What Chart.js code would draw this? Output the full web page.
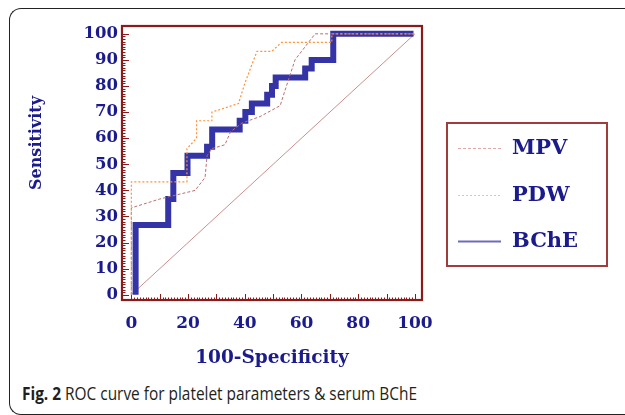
<!DOCTYPE html>
<html>
<head>
<meta charset="utf-8">
<script src="https://cdn.jsdelivr.net/npm/chart.js@4.4.1/dist/chart.umd.min.js"></script>
<style>
  html, body { margin: 0; padding: 0; background: #fff; width: 625px; height: 415px; overflow: hidden; }
  #frame { position: absolute; left: 9px; top: 8px; width: 640px; height: 407px; border-left: 1.6px solid #222; border-top: 1.6px solid #222; border-bottom: 1.6px solid #222; border-radius: 12px 0 0 12px; box-sizing: border-box; }
  #cap { position: absolute; left: 22px; top: 384px; font-family: "Open Sans", sans-serif; font-size: 18px; line-height: 18px; color: #231f20; white-space: nowrap; transform-origin: 0 0; }
  #cap b { font-weight: 700; }
  canvas { position: absolute; left: 0; top: 0; }
</style>
</head>
<body>
<div id="frame"></div>
<div id="cap"><span id="capText"><b>Fig. 2</b> ROC curve for platelet parameters &amp; serum BChE</span></div>
<canvas id="c" width="625" height="415"></canvas>
<script>
// ---- data ----
const seriesNames = ["MPV", "PDW", "BChE"];
const xTicks = [0, 20, 40, 60, 80, 100];
const yTicks = [0, 10, 20, 30, 40, 50, 60, 70, 80, 90, 100];
const xTitle = "100-Specificity";
const yTitle = "Sensitivity";

const mpvX = [0, 0, 10, 22.5, 26, 26.7, 28.4, 33, 35, 39, 45.4, 52.5, 53.5, 57.7, 64.8, 100];
const mpvY = [0, 33.3, 36.7, 40, 45, 53.3, 56, 57.5, 62.5, 65.8, 68.3, 72.5, 76, 90, 100, 100];

const pdwX = [0, 0, 19.6, 19.6, 23, 23, 28.4, 28.4, 37.8, 40, 44.3, 49.5, 53, 70.7, 70.7, 100];
const pdwY = [0, 43.3, 43.3, 56, 60, 66.7, 66.7, 70, 73.3, 81, 93.3, 93.3, 96.7, 96.7, 100, 100];

const bcheX = [1.5, 1.5, 13, 13, 14.8, 14.8, 19.8, 19.8, 26.7, 26.7, 28.5, 28.5, 38.2, 38.2, 40.2, 40.2, 42.5, 42.5, 47.9, 47.9, 49.6, 49.6, 50.9, 50.9, 61.3, 61.3, 63.6, 63.6, 71.2, 71.2, 99.5];
const bcheY = [0, 26.7, 26.7, 36.7, 36.7, 46.7, 46.7, 53.3, 53.3, 56.7, 56.7, 63.3, 63.3, 66.7, 66.7, 70, 70, 73.3, 73.3, 76.7, 76.7, 80, 80, 83.3, 83.3, 86.7, 86.7, 90, 90, 100, 100];

const diagX = [0, 100];
const diagY = [0, 100];

const zip = (xs, ys) => xs.map((x, i) => ({ x: x, y: ys[i] }));

const NAVY = "#1b1b8c";
const AXIS = "#8b1a1a";

// frame + ruler ticks plugin
const framePlugin = {
  id: "framePlugin",
  beforeDatasetsDraw(chart) {
    const { ctx, chartArea: a, scales } = chart;
    const xs = scales.x, ys = scales.y;
    ctx.save();
    ctx.strokeStyle = AXIS;
    ctx.lineWidth = 1;
    ctx.beginPath();
    for (let v = 0; v <= 100; v++) {
      const px = Math.round(xs.getPixelForValue(v)) + 0.5;
      const len = v % 10 === 0 ? 6 : 2.5;
      ctx.moveTo(px, a.bottom);
      ctx.lineTo(px, a.bottom - len);
      const py = Math.round(ys.getPixelForValue(v)) + 0.5;
      const len2 = v % 10 === 0 ? 7 : 3.5;
      ctx.moveTo(a.left, py);
      ctx.lineTo(a.left + len2, py);
    }
    ctx.stroke();
    ctx.lineWidth = 2.2;
    ctx.strokeRect(a.left, a.top, a.right - a.left, a.bottom - a.top);
    ctx.restore();
  },
  afterDraw(chart) {
    // y-axis title, placed where the figure places it (above the axis centre)
    const { ctx } = chart;
    ctx.save();
    ctx.translate(37, 143);
    ctx.rotate(-Math.PI / 2);
    ctx.fillStyle = NAVY;
    ctx.font = "bold 16px 'DejaVu Serif'";
    ctx.textAlign = "center";
    ctx.textBaseline = "middle";
    ctx.fillText(yTitle, 0, 0);
    ctx.restore();
  }
};

// boxed legend plugin
const legendPlugin = {
  id: "boxLegend",
  afterDraw(chart) {
    const { ctx } = chart;
    ctx.save();
    ctx.strokeStyle = "#a03c3c";
    ctx.lineWidth = 2;
    ctx.strokeRect(447, 123, 160, 143);
    const rows = [148, 195, 241];
    chart.data.datasets.forEach((ds, i) => {
      if (!ds.legendColor) return;
      const y = rows[ds.legendRow];
      ctx.beginPath();
      ctx.strokeStyle = ds.legendColor;
      ctx.lineWidth = ds.legendWidth;
      ctx.setLineDash(ds.borderDash || []);
      ctx.moveTo(458, y + 0.5);
      ctx.lineTo(501, y + 0.5);
      ctx.stroke();
      ctx.setLineDash([]);
      ctx.fillStyle = NAVY;
      ctx.font = "bold 21px 'DejaVu Serif'";
      ctx.textBaseline = "middle";
      ctx.textAlign = "left";
      ctx.fillText(ds.label, 512, y + 1);
    });
    ctx.restore();
  }
};

const chart = new Chart(document.getElementById("c"), {
  type: "line",
  data: {
    datasets: [
      { label: seriesNames[0], data: zip(mpvX, mpvY), borderColor: "#b86e6e", borderWidth: 1, borderDash: [3, 2],
        order: 1, legendColor: "#e2a8a8", legendWidth: 1, legendRow: 0 },
      { label: seriesNames[1], data: zip(pdwX, pdwY), borderColor: "#ff9238", borderWidth: 1.2, borderDash: [2, 2],
        order: 0, legendColor: "#ffbb88", legendWidth: 1, legendRow: 1 },
      { label: seriesNames[2], data: zip(bcheX, bcheY), borderColor: "#3434a6", borderWidth: 6,
        order: 2, legendColor: "#6c6cbc", legendWidth: 2, legendRow: 2, borderJoinStyle: "miter", borderCapStyle: "butt" },
      { label: "ref", data: zip(diagX, diagY), borderColor: "#c98f8f", borderWidth: 1, order: 3 }
    ]
  },
  options: {
    responsive: false,
    animation: false,
    devicePixelRatio: 1,
    elements: { point: { radius: 0 }, line: { tension: 0 } },
    layout: { padding: { left: 10, top: 26, right: 203, bottom: 40 } },
    plugins: { legend: { display: false }, tooltip: { enabled: false } },
    scales: {
      x: {
        type: "linear", min: -3.3, max: 102.5,
        afterBuildTicks: s => { s.ticks = xTicks.map(v => ({ value: v })); },
        afterFit: s => { s.height = 75; },
        grid: { display: false, drawTicks: false },
        border: { display: false },
        ticks: { color: NAVY, padding: 13, maxRotation: 0, font: { family: "DejaVu Serif", weight: "bold", size: 17 } },
        title: { display: true, text: xTitle, color: NAVY, padding: { top: 0, bottom: 6 },
                 font: { family: "DejaVu Serif", weight: "bold", size: 18.5, lineHeight: 1.2 } }
      },
      y: {
        type: "linear", min: -2, max: 103,
        afterBuildTicks: s => { s.ticks = yTicks.map(v => ({ value: v })); },
        afterFit: s => { s.width = 112; },
        grid: { display: false, drawTicks: false },
        border: { display: false },
        ticks: { color: NAVY, padding: 4, font: { family: "DejaVu Serif", weight: "bold", size: 16.5 } },
        title: { display: false, text: yTitle }
      }
    }
  },
  plugins: [framePlugin, legendPlugin]
});

// fit caption width to the figure's caption width
const capSpan = document.getElementById("capText");
const w = capSpan.getBoundingClientRect().width;
document.getElementById("cap").style.transform = "scaleX(" + (395 / w).toFixed(3) + ")";
</script>
</body>
</html>
